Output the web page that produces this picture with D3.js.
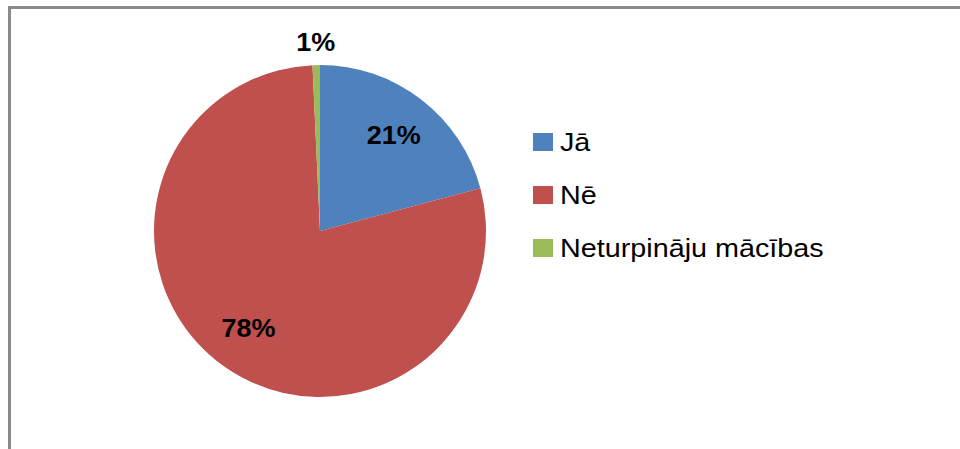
<!DOCTYPE html>
<html>
<head>
<meta charset="utf-8">
<script src="https://cdn.jsdelivr.net/npm/d3@7"></script>
<style>
  body { margin: 0; background: #fff; }
  text { font-family: "Liberation Sans", Arial, sans-serif; }
</style>
</head>
<body>
<div id="chart"></div>
<script>
var categories = ["Jā", "Nē", "Neturpināju mācības"];
var counts = [29, 109, 1];
var percentLabels = ["21%", "78%", "1%"];
var colors = ["#4F81BD", "#C0504D", "#9BBB59"];

var width = 960, height = 449;
var cx = 320, cy = 231, radius = 166;

var svg = d3.select("#chart").append("svg")
	.attr("width", width)
	.attr("height", height);

// chart frame (only top and left edges show)
svg.append("rect")
	.attr("x", 9.5).attr("y", 7.5)
	.attr("width", 960).attr("height", 460)
	.attr("fill", "none")
	.attr("stroke", "#8a8a8a")
	.attr("stroke-width", 3);

var data = categories.map((c, i) => ({ name: c, value: counts[i], label: percentLabels[i], color: colors[i] }));

var pie = d3.pie().value(d => d.value).sort(null);
var arcs = pie(data);

var arc = d3.arc().innerRadius(0).outerRadius(radius);
var labelArc = d3.arc().innerRadius(121).outerRadius(121);
var outerArc = d3.arc().innerRadius(189).outerRadius(189);

var g = svg.append("g").attr("transform", `translate(${cx},${cy})`);

g.selectAll("path")
	.data(arcs)
	.enter()
	.append("path")
	.attr("d", arc)
	.attr("fill", d => d.data.color);

g.selectAll("text.lbl")
	.data(arcs)
	.enter()
	.append("text")
	.attr("class", "lbl")
	.attr("transform", function(d) {
		var p = (d.endAngle - d.startAngle) < 0.2 ? outerArc.centroid(d) : labelArc.centroid(d);
		return `translate(${p[0]},${p[1]}) scale(1.08,1)`;
	})
	.attr("text-anchor", "middle")
	.attr("dy", "0.35em")
	.attr("font-size", 25)
	.attr("font-weight", "bold")
	.attr("fill", "#000")
	.text(d => d.data.label);

// legend
var legend = svg.append("g").attr("transform", "translate(533,151)");
var rows = legend.selectAll("g")
	.data(data)
	.enter()
	.append("g")
	.attr("transform", (d, i) => `translate(0,${i * 53})`);

rows.append("rect")
	.attr("x", 0).attr("y", -18)
	.attr("width", 20).attr("height", 18)
	.attr("fill", d => d.color);

rows.append("text")
	.attr("transform", "translate(27,0) scale(1.15,1)")
	.attr("font-size", 25)
	.attr("fill", "#000")
	.text(d => d.name);
</script>
</body>
</html>
